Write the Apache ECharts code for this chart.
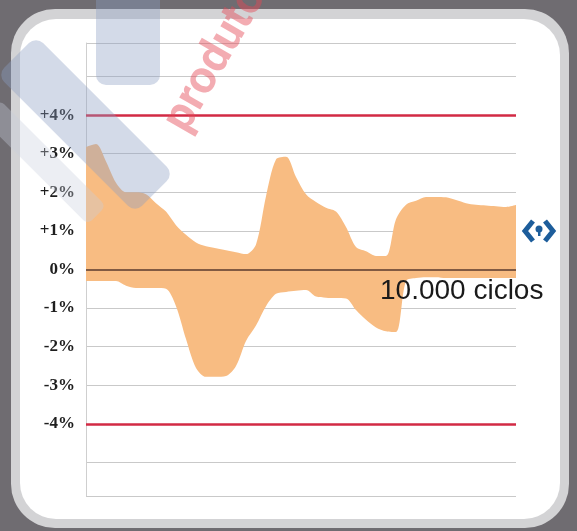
<!DOCTYPE html>
<html>
<head>
<meta charset="utf-8">
<script src="https://cdn.jsdelivr.net/npm/echarts@6/dist/echarts.min.js"></script>
<style>
  html, body { margin: 0; padding: 0; background: #6f6c71; }
  #chart { width: 577px; height: 531px; }
</style>
</head>
<body>
<div id="chart"></div>
<script>
// readings along the run, left to right (percent deviation)
const points = ['0','1','2','3','4','5','6','7','8','9','10','11','12','13','14','15','16','17','18','19','20','21',
                '22','23','24','25','26','27','28','29','30','31','32','33','34','35','36','37','38','39','40','41','42','43'];
const upperBand = [3.17, 3.25, 2.8, 2.25, 2.0, 2.0, 1.95, 1.72, 1.5, 1.15, 0.9, 0.7, 0.6, 0.55, 0.5, 0.45, 0.4, 0.65,
                   1.9, 2.85, 2.92, 2.4, 1.95, 1.75, 1.6, 1.5, 1.1, 0.58, 0.47, 0.35, 0.35, 1.3, 1.68, 1.78, 1.88,
                   1.88, 1.87, 1.8, 1.72, 1.68, 1.66, 1.64, 1.62, 1.67];
const lowerBand = [-0.3, -0.3, -0.3, -0.3, -0.42, -0.48, -0.48, -0.48, -0.5, -0.95, -1.8, -2.55, -2.78, -2.78, -2.76,
                   -2.5, -1.85, -1.45, -0.95, -0.63, -0.58, -0.55, -0.53, -0.7, -0.73, -0.74, -0.75, -1.05, -1.3,
                   -1.5, -1.6, -1.62, -0.3, -0.22, -0.2, -0.2, -0.22, -0.22, -0.22, -0.22, -0.22, -0.22, -0.22, -0.22];
const tickValues = [-4, -3, -2, -1, 0, 1, 2, 3, 4];
const gridValues = [-5.87, -5, -4, -3, -2, -1, 0, 1, 2, 3, 4, 5, 5.87];
const limits = [4, -4];
const cyclesLabel = '10.000 ciclos';

const chart = echarts.init(document.getElementById('chart'), null, { renderer: 'canvas' });

const bandWidth = upperBand.map((v, i) => +(v - lowerBand[i]).toFixed(2));

const option = {
  backgroundColor: '#6f6c71',
  animation: false,
  grid: { left: 86, right: 61, top: 43, bottom: 35 },
  xAxis: {
    type: 'category',
    data: points,
    boundaryGap: false,
    axisLine: { show: false },
    axisTick: { show: false },
    axisLabel: { show: false },
    splitLine: { show: false }
  },
  yAxis: {
    type: 'value',
    min: -5.87,
    max: 5.87,
    axisLine: { show: true, lineStyle: { color: '#cfcfcf', width: 1 } },
    axisTick: { show: false, customValues: gridValues },
    splitLine: { show: true, lineStyle: { color: '#c9c9c9', width: 1 } },
    axisLabel: {
      customValues: tickValues,
      margin: 11,
      color: '#1e1e1e',
      fontFamily: '"Liberation Serif", "DejaVu Serif", serif',
      fontWeight: 'bold',
      fontSize: 17,
      padding: [4, 0, 0, 0],
      formatter: v => (v > 0 ? '+' + v : '' + v) + '%'
    }
  },
  series: [
    {
      name: 'lower',
      type: 'line',
      data: lowerBand,
      stack: 'band',
      stackStrategy: 'all',
      symbol: 'none',
      smooth: 0.3,
      silent: true,
      lineStyle: { width: 0, opacity: 0 }
    },
    {
      name: 'band',
      type: 'line',
      data: bandWidth,
      stack: 'band',
      stackStrategy: 'all',
      symbol: 'none',
      smooth: 0.3,
      silent: true,
      lineStyle: { width: 0, opacity: 0 },
      areaStyle: { color: '#f8bc82', opacity: 1 },
      markLine: {
        silent: true,
        symbol: 'none',
        label: { show: false },
        data: [
          { yAxis: limits[0], lineStyle: { color: '#d22a44', width: 2.5, type: 'solid' } },
          { yAxis: limits[1], lineStyle: { color: '#d22a44', width: 2.5, type: 'solid' } },
          { yAxis: 0, lineStyle: { color: '#5a3a2c', width: 1.5, type: 'solid' } }
        ]
      }
    }
  ],
  graphic: [
    // framed panel
    { type: 'rect', z: -10, shape: { x: 11, y: 9, width: 558, height: 519, r: 44 }, style: { fill: '#d3d3d5' } },
    { type: 'rect', z: -9, shape: { x: 20, y: 19, width: 540, height: 500, r: 36 }, style: { fill: '#ffffff' } },
    // annotation
    {
      type: 'text', z: 50, left: 380, top: 277,
      style: { text: cyclesLabel, fontSize: 28, fontFamily: '"Liberation Sans", Arial, sans-serif', fill: '#1a1a1a' }
    },
    // logo
    { type: 'polyline', z: 50, shape: { points: [[533, 221], [525, 231], [533, 241]] },
      style: { stroke: '#1d5d9b', lineWidth: 5, fill: null } },
    { type: 'polyline', z: 50, shape: { points: [[545, 221], [553, 231], [545, 241]] },
      style: { stroke: '#1d5d9b', lineWidth: 5, fill: null } },
    { type: 'circle', z: 50, shape: { cx: 539, cy: 229, r: 3.5 }, style: { fill: '#1d5d9b' } },
    { type: 'rect', z: 50, shape: { x: 538, y: 230, width: 2.5, height: 6 }, style: { fill: '#1d5d9b' } },
    // watermark
    { type: 'rect', z: 100, x: 36, y: 36, rotation: -Math.PI / 4, shape: { x: 0, y: 0, width: 195, height: 55, r: 10 },
      style: { fill: 'rgba(140,158,195,0.38)' } },
    { type: 'rect', z: 100, x: 96, y: -20, shape: { x: 0, y: 0, width: 64, height: 105, r: 10 },
      style: { fill: 'rgba(140,158,195,0.38)' } },
    { type: 'rect', z: 100, x: 0, y: 100, rotation: -Math.PI / 4, shape: { x: 0, y: 0, width: 150, height: 26, r: 6 },
      style: { fill: 'rgba(200,206,220,0.35)' } },
    { type: 'text', z: 100, x: 196, y: 140, rotation: Math.PI / 3,
      style: { text: 'produtos', fontSize: 46, fontWeight: 'bold', fontFamily: 'Roboto, sans-serif',
               fill: 'rgba(228,70,85,0.45)', verticalAlign: 'bottom' } }
  ]
};

chart.setOption(option);
</script>
</body>
</html>
